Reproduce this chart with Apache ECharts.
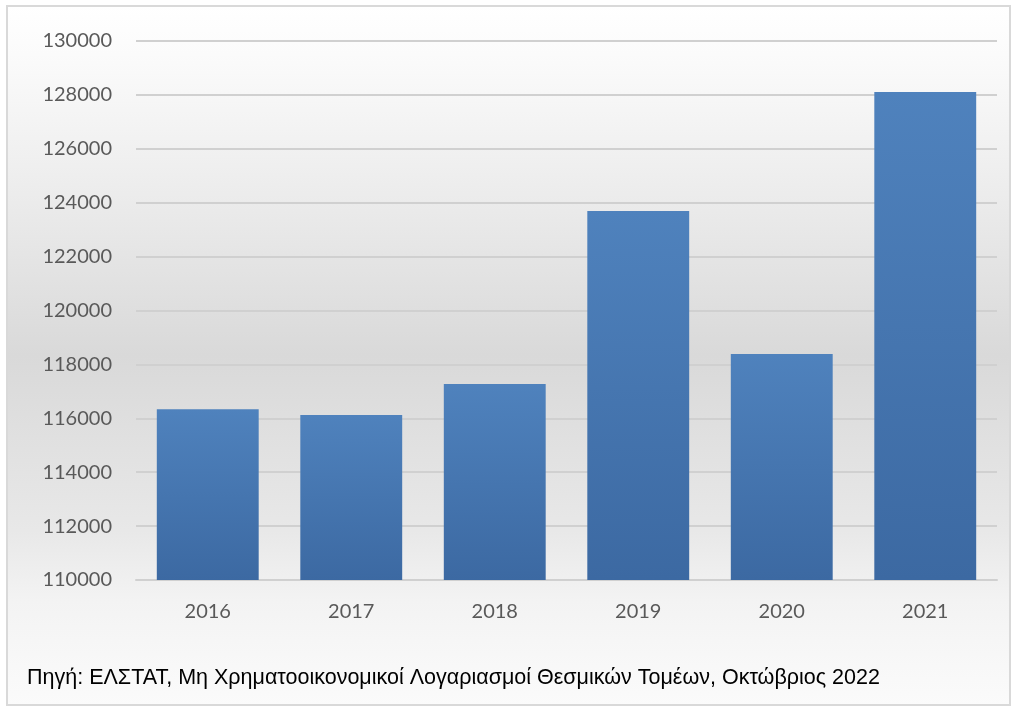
<!DOCTYPE html>
<html>
  <head>
    <meta charset="utf-8">
    <title>Bar chart</title>
    <style>
      html, body { margin: 0; padding: 0; background: #fff; }
      #main { width: 1012px; height: 707px; }
    </style>
    <script src="https://cdn.jsdelivr.net/npm/echarts@6/dist/echarts.min.js"></script>
  </head>
  <body>
    <div id="main"></div>
    <script type="text/javascript">
      // data
      var years = ['2016', '2017', '2018', '2019', '2020', '2021']
      var values = [116340, 116120, 117270, 123690, 118390, 128110]
      var source = 'Πηγή: ΕΛΣΤΑΤ, Μη Χρηματοοικονομικοί Λογαριασμοί Θεσμικών Τομέων, Οκτώβριος 2022'

      var myChart = echarts.init(document.getElementById('main'))

      var option = {
        animation: false,
        backgroundColor: '#ffffff',
        graphic: [
          {
            type: 'rect',
            z: -10,
            shape: { x: 7, y: 6, width: 1003, height: 699 },
            style: {
              fill: new echarts.graphic.LinearGradient(0, 0, 0, 1, [
                { offset: 0, color: '#ffffff' },
                { offset: 0.07, color: '#fbfbfb' },
                { offset: 0.27, color: '#ececec' },
                { offset: 0.5, color: '#d9d9d9' },
                { offset: 0.75, color: '#e8e8e8' },
                { offset: 0.85, color: '#f3f3f3' },
                { offset: 1, color: '#fbfbfb' }
              ]),
              stroke: '#d9d9d9',
              lineWidth: 2
            }
          },
          {
            type: 'text',
            left: 27,
            top: 667,
            style: {
              text: source,
              fill: '#000000',
              font: '21.5px "Liberation Sans", Arial, sans-serif'
            }
          }
        ],
        grid: {
          left: 136,
          right: 15,
          top: 41,
          bottom: 127
        },
        xAxis: {
          type: 'category',
          data: years,
          axisLine: { show: true, lineStyle: { color: '#d0d0d0', width: 2 } },
          axisTick: { show: false },
          axisLabel: {
            color: '#595959',
            fontSize: 20,
            fontFamily: 'Lato, "Open Sans", sans-serif',
            margin: 22
          }
        },
        yAxis: {
          type: 'value',
          min: 110000,
          max: 130000,
          interval: 2000,
          axisLine: { show: false },
          axisTick: { show: false },
          splitLine: { lineStyle: { color: '#d0d0d0', width: 2 } },
          axisLabel: {
            color: '#595959',
            fontSize: 20,
            fontFamily: 'Lato, "Open Sans", sans-serif',
            margin: 24,
            formatter: function (v) { return String(v) }
          }
        },
        series: [{
          type: 'bar',
          data: values,
          barWidth: '71%',
          itemStyle: {
            color: new echarts.graphic.LinearGradient(0, 0, 0, 1, [
              { offset: 0, color: '#4f82bd' },
              { offset: 1, color: '#3c69a2' }
            ])
          }
        }]
      }

      myChart.setOption(option)
    </script>
  </body>
</html>
